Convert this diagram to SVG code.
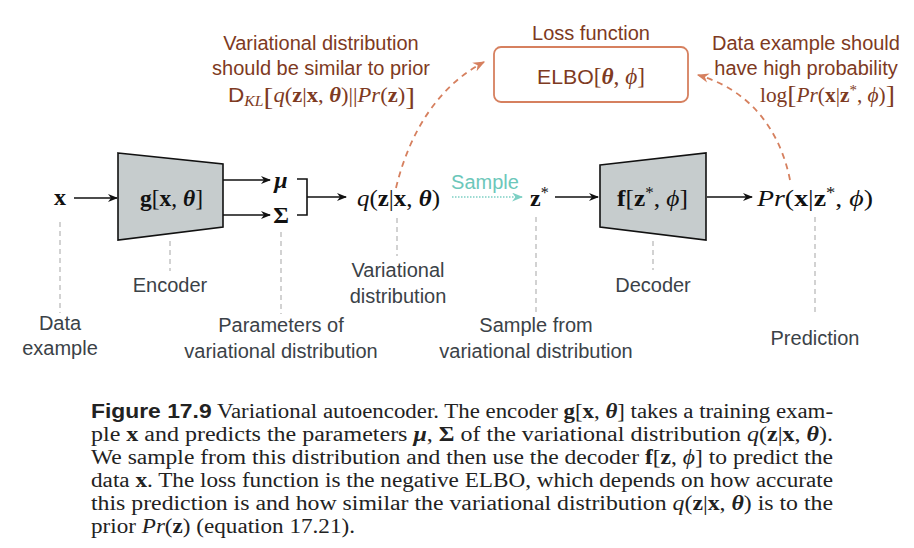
<svg xmlns="http://www.w3.org/2000/svg" width="914" height="548" viewBox="0 0 914 548">
<defs>
<style>
.lbl{font-family:"Liberation Sans","DejaVu Sans",sans-serif;font-size:20px;fill:#3b4247;text-anchor:middle}
.top{font-family:"Liberation Sans","DejaVu Sans",sans-serif;font-size:20px;fill:#7e3a22;text-anchor:middle}
.m{font-family:"Liberation Serif","DejaVu Serif",serif;font-size:24px;fill:#111}
.cap{font-family:"Liberation Serif","DejaVu Serif",serif;font-size:20px;fill:#222}
.b{font-weight:bold}
.i{font-style:italic}
.bi{font-weight:bold;font-style:italic}
.guide{stroke:#c4c4c4;stroke-width:1.5;stroke-dasharray:5 4;fill:none}
.arr{stroke:#111;stroke-width:1.6;fill:none;marker-end:url(#ah)}
.net{fill:#c6cccd;stroke:#111;stroke-width:1.6}
.loss{stroke:#d6805f;stroke-width:1.8;stroke-dasharray:6 5;fill:none;marker-end:url(#ahs)}
</style>
<marker id="ah" viewBox="0 0 10 8" refX="9" refY="4" markerWidth="10" markerHeight="8" markerUnits="userSpaceOnUse" orient="auto">
<path d="M0,0 L10,4 L0,8 L3,4 z" fill="#111"/>
</marker>
<marker id="aht" viewBox="0 0 10 8" refX="9" refY="4" markerWidth="11" markerHeight="9" markerUnits="userSpaceOnUse" orient="auto">
<path d="M0,0 L10,4 L0,8 L3,4 z" fill="#7dd0c4"/>
</marker>
<marker id="ahs" viewBox="0 0 10 8" refX="9" refY="4" markerWidth="12" markerHeight="10" markerUnits="userSpaceOnUse" orient="auto">
<path d="M0,0 L10,4 L0,8 L3,4 z" fill="#d6805f"/>
</marker>
</defs>
<rect width="914" height="548" fill="#fff"/>

<g id="connectors">
<line class="arr" x1="74" y1="198" x2="117" y2="198"/>
<line class="arr" x1="223" y1="180" x2="270" y2="180"/>
<line class="arr" x1="223" y1="215" x2="270" y2="215"/>
<path d="M297,179 H307 V215 H297" stroke="#111" stroke-width="1.6" fill="none"/>
<line class="arr" x1="307" y1="197" x2="346" y2="197"/>
<line x1="452" y1="197" x2="522" y2="197" stroke="#7dd0c4" stroke-width="1.6" stroke-dasharray="1.5 1.5" marker-end="url(#aht)"/>
<line class="arr" x1="555" y1="197" x2="598" y2="197"/>
<line class="arr" x1="707" y1="197" x2="752" y2="197"/>
<path class="loss" d="M396,188 C410,130 440,85 484,62"/>
<path class="loss" d="M790,180 C780,130 750,90 698,75"/>
<line class="guide" x1="60" y1="222" x2="60" y2="313"/>
<line class="guide" x1="170" y1="241" x2="170" y2="271"/>
<line class="guide" x1="281" y1="232" x2="281" y2="314"/>
<line class="guide" x1="397" y1="218" x2="397" y2="256"/>
<line class="guide" x1="536" y1="217" x2="536" y2="314"/>
<line class="guide" x1="653" y1="241" x2="653" y2="270"/>
<line class="guide" x1="815" y1="217" x2="815" y2="316"/>
</g>

<g id="node-x">
<text class="m b" x="60" y="205" text-anchor="middle">x</text>
<text class="lbl" x="60" y="330">Data</text>
<text class="lbl" x="60" y="355">example</text>
</g>

<g id="node-encoder">
<polygon class="net" points="118,153 223,164 223,227 118,240"/>
<text class="m" x="140" y="206" textLength="63" lengthAdjust="spacingAndGlyphs"><tspan class="b">g</tspan>[<tspan class="b">x</tspan>, <tspan class="bi">θ</tspan>]</text>
<text class="lbl" x="170" y="292">Encoder</text>
</g>

<g id="node-params">
<text class="m bi" x="281" y="188" text-anchor="middle">μ</text>
<text class="m b" x="281" y="223" text-anchor="middle">Σ</text>
<text class="lbl" x="281" y="332">Parameters of</text>
<text class="lbl" x="281" y="358">variational distribution</text>
</g>

<g id="node-q">
<text class="m" x="357" y="206" textLength="83" lengthAdjust="spacingAndGlyphs"><tspan class="i">q</tspan>(<tspan class="b">z</tspan>|<tspan class="b">x</tspan>, <tspan class="bi">θ</tspan>)</text>
<text class="lbl" x="398" y="277">Variational</text>
<text class="lbl" x="398" y="303">distribution</text>
</g>

<g id="node-sample">
<text x="485" y="189" font-family="Liberation Sans, DejaVu Sans, sans-serif" font-size="20" fill="#6cc7ba" text-anchor="middle">Sample</text>
</g>

<g id="node-zstar">
<text class="m b" x="530" y="206">z<tspan font-size="16" dy="-8" font-weight="normal">*</tspan></text>
<text class="lbl" x="536" y="332">Sample from</text>
<text class="lbl" x="536" y="358">variational distribution</text>
</g>

<g id="node-decoder">
<polygon class="net" points="600,165 706,153 706,240 600,227"/>
<text class="m" x="617" y="206" textLength="71" lengthAdjust="spacingAndGlyphs"><tspan class="b">f</tspan>[<tspan class="b">z</tspan><tspan font-size="16" dy="-8">*</tspan><tspan dy="8">, </tspan><tspan class="i">ϕ</tspan>]</text>
<text class="lbl" x="653" y="292">Decoder</text>
</g>

<g id="node-pr">
<text class="m" x="757" y="206" textLength="116" lengthAdjust="spacingAndGlyphs"><tspan class="i">Pr</tspan>(<tspan class="b">x</tspan>|<tspan class="b">z</tspan><tspan font-size="16" dy="-8">*</tspan><tspan dy="8">, </tspan><tspan class="i">ϕ</tspan>)</text>
<text class="lbl" x="815" y="345">Prediction</text>
</g>

<g id="node-loss">
<text class="top" x="591" y="40">Loss function</text>
<rect x="494" y="47" width="194" height="55" rx="7" fill="#fff" stroke="#d6805f" stroke-width="1.8"/>
<text x="537" y="84" textLength="108" lengthAdjust="spacingAndGlyphs" font-family="Liberation Sans, DejaVu Sans, sans-serif" font-size="21" fill="#7e3a22">ELBO<tspan font-family="Liberation Serif, DejaVu Serif, serif" font-size="23">[<tspan class="bi">θ</tspan>, <tspan class="i">ϕ</tspan>]</tspan></text>
</g>

<g id="node-kl">
<text class="top" x="321" y="50">Variational distribution</text>
<text class="top" x="321" y="75">should be similar to prior</text>
<text x="228" y="102" textLength="187" lengthAdjust="spacingAndGlyphs" font-family="Liberation Serif, DejaVu Serif, serif" font-size="20" fill="#7e3a22"><tspan font-family="Liberation Sans, DejaVu Sans, sans-serif">D</tspan><tspan class="i" font-size="14" dy="4">KL</tspan><tspan font-size="26" dy="-1">[</tspan><tspan dy="-3" class="i">q</tspan>(<tspan class="b">z</tspan>|<tspan class="b">x</tspan>, <tspan class="bi">θ</tspan>)||<tspan class="i">Pr</tspan>(<tspan class="b">z</tspan>)<tspan font-size="26" dy="3">]</tspan></text>
</g>

<g id="node-loglik">
<text class="top" x="806" y="50">Data example should</text>
<text class="top" x="806" y="75">have high probability</text>
<text x="760" y="102" textLength="135" lengthAdjust="spacingAndGlyphs" font-family="Liberation Serif, DejaVu Serif, serif" font-size="20" fill="#7e3a22">log<tspan font-size="26" dy="1">[</tspan><tspan dy="-1" class="i">Pr</tspan>(<tspan class="b">x</tspan>|<tspan class="b">z</tspan><tspan font-size="14" dy="-7">*</tspan><tspan dy="7">, </tspan><tspan class="i">ϕ</tspan>)<tspan font-size="26" dy="1">]</tspan></text>
</g>

<g id="caption">
<text class="cap" x="91" y="418" textLength="742" lengthAdjust="spacingAndGlyphs"><tspan font-family="Liberation Sans, DejaVu Sans, sans-serif" font-weight="bold">Figure 17.9</tspan> Variational autoencoder. The encoder <tspan class="b">g</tspan>[<tspan class="b">x</tspan>, <tspan class="bi">θ</tspan>] takes a training exam-</text>
<text class="cap" x="91" y="441" textLength="742" lengthAdjust="spacingAndGlyphs">ple <tspan class="b">x</tspan> and predicts the parameters <tspan class="bi">μ</tspan>, <tspan class="b">Σ</tspan> of the variational distribution <tspan class="i">q</tspan>(<tspan class="b">z</tspan>|<tspan class="b">x</tspan>, <tspan class="bi">θ</tspan>).</text>
<text class="cap" x="91" y="464" textLength="742" lengthAdjust="spacingAndGlyphs">We sample from this distribution and then use the decoder <tspan class="b">f</tspan>[<tspan class="b">z</tspan>, <tspan class="i">ϕ</tspan>] to predict the</text>
<text class="cap" x="91" y="487" textLength="742" lengthAdjust="spacingAndGlyphs">data <tspan class="b">x</tspan>. The loss function is the negative ELBO, which depends on how accurate</text>
<text class="cap" x="91" y="510" textLength="742" lengthAdjust="spacingAndGlyphs">this prediction is and how similar the variational distribution <tspan class="i">q</tspan>(<tspan class="b">z</tspan>|<tspan class="b">x</tspan>, <tspan class="bi">θ</tspan>) is to the</text>
<text class="cap" x="91" y="533" textLength="264" lengthAdjust="spacingAndGlyphs">prior <tspan class="i">Pr</tspan>(<tspan class="b">z</tspan>) (equation 17.21).</text>
</g>
</svg>
